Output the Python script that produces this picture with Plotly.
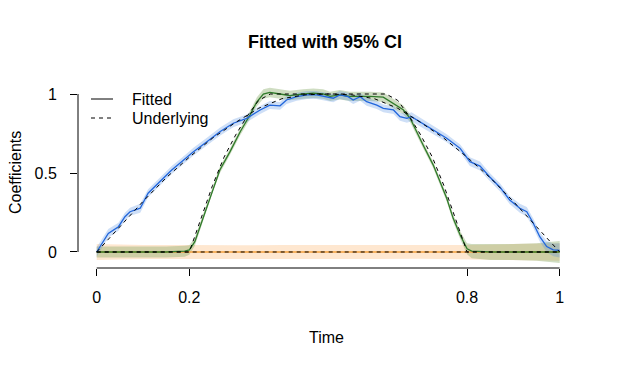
import plotly.graph_objects as go

# ---------------- data ----------------
x_tick_vals = [0, 0.2, 0.8, 1]
x_tick_text = ["0", "0.2", "0.8", "1"]
y_tick_vals = [0, 0.5, 1]
y_tick_text = ["0", "0.5", "1"]
legend_labels = ["Fitted", "Underlying"]

blue_t = [0, 0.025, 0.047, 0.061, 0.072, 0.083, 0.094, 0.111, 0.14, 0.162,
          0.184, 0.209, 0.238, 0.266, 0.295, 0.324, 0.353, 0.374, 0.396, 0.41,
          0.432, 0.454, 0.475, 0.497, 0.511, 0.525, 0.543, 0.554, 0.569, 0.583,
          0.605, 0.619, 0.641, 0.655, 0.67, 0.68, 0.698, 0.727, 0.756, 0.785,
          0.806, 0.828, 0.849, 0.871, 0.892, 0.914, 0.929, 0.943, 0.957, 0.972,
          0.986, 1.0]
blue_fit = [0, 0.118, 0.16, 0.223, 0.255, 0.266, 0.277, 0.372, 0.456, 0.519,
            0.572, 0.635, 0.698, 0.761, 0.815, 0.846, 0.899, 0.93, 0.925, 0.962,
            0.983, 0.994, 0.994, 0.983, 0.973, 0.994, 0.983, 0.962, 0.983, 0.951,
            0.93, 0.909, 0.899, 0.856, 0.846, 0.856, 0.825, 0.772, 0.72, 0.656,
            0.572, 0.544, 0.475, 0.41, 0.329, 0.277, 0.255, 0.182, 0.097, 0.034,
            0.013, 0.01]
blue_ci = [0.03, 0.028, 0.025, 0.025, 0.025, 0.028, 0.028, 0.025, 0.025, 0.025,
           0.025, 0.025, 0.025, 0.025, 0.025, 0.025, 0.025, 0.025, 0.025, 0.025,
           0.025, 0.025, 0.025, 0.025, 0.025, 0.025, 0.025, 0.025, 0.025, 0.025,
           0.025, 0.025, 0.025, 0.025, 0.028, 0.028, 0.025, 0.025, 0.025, 0.025,
           0.028, 0.028, 0.025, 0.025, 0.025, 0.028, 0.03, 0.03, 0.03, 0.035,
           0.04, 0.045]

green_t = [0, 0.05, 0.1, 0.15, 0.19, 0.2, 0.212, 0.223, 0.238, 0.252,
           0.266, 0.288, 0.31, 0.331, 0.346, 0.36, 0.374, 0.396, 0.417, 0.446,
           0.468, 0.489, 0.504, 0.525, 0.547, 0.569, 0.59, 0.619, 0.641, 0.662,
           0.677, 0.691, 0.705, 0.727, 0.741, 0.756, 0.77, 0.785, 0.8, 0.81,
           0.85, 0.9, 0.95, 1.0]
green_fit = [0, 0, 0, 0, 0.005, 0.013, 0.065, 0.16, 0.287, 0.413,
             0.519, 0.635, 0.761, 0.867, 0.951, 1.0, 1.01, 1.0, 0.99, 1.0,
             1.005, 1.0, 0.985, 0.995, 0.985, 0.985, 0.985, 0.98, 0.94, 0.9,
             0.846, 0.76, 0.677, 0.55, 0.445, 0.34, 0.213, 0.108, 0.02, 0.005,
             0, 0, 0, 0]
green_ci = [0.035, 0.035, 0.035, 0.035, 0.035, 0.03, 0.025, 0.022, 0.02, 0.02,
            0.02, 0.02, 0.022, 0.025, 0.028, 0.03, 0.03, 0.03, 0.03, 0.03,
            0.03, 0.03, 0.03, 0.03, 0.03, 0.03, 0.03, 0.03, 0.03, 0.028,
            0.025, 0.022, 0.02, 0.02, 0.02, 0.02, 0.022, 0.025, 0.035, 0.045,
            0.05, 0.05, 0.055, 0.07]

orange_t = [0, 0.1, 0.2, 0.3, 0.4, 0.5, 0.6, 0.7, 0.8, 0.9, 1.0]
orange_fit = [0, 0, 0, 0, 0, 0, 0, 0, 0, 0, 0]
orange_ci = [0.05, 0.045, 0.045, 0.042, 0.045, 0.045, 0.045, 0.042, 0.045, 0.05, 0.055]

blue_true_t = [0, 0.05, 0.1, 0.15, 0.2, 0.25, 0.3, 0.35, 0.4, 0.45, 0.5,
               0.55, 0.6, 0.65, 0.7, 0.75, 0.8, 0.85, 0.9, 0.95, 1.0]
blue_true = [0, 0.16, 0.32, 0.47, 0.6, 0.72, 0.82, 0.91, 0.97, 0.995, 1,
             0.995, 0.97, 0.91, 0.82, 0.72, 0.6, 0.47, 0.32, 0.16, 0]

green_true_t = [0, 0.2, 0.212, 0.227, 0.25, 0.275, 0.3, 0.325, 0.35, 0.375,
                0.625, 0.65, 0.675, 0.7, 0.725, 0.75, 0.773, 0.788, 0.8, 1.0]
green_true = [0, 0, 0.1, 0.23, 0.42, 0.6, 0.74, 0.86, 0.96, 1,
              1, 0.96, 0.86, 0.74, 0.6, 0.42, 0.23, 0.1, 0, 0]

orange_true_t = [0, 1.0]
orange_true = [0, 0]

# ---------------- figure ----------------
FONT = "Liberation Sans, Arial, Helvetica, sans-serif"
DASH = "4px,4px"
W, H = 610, 359          # page body adds an 8px offset
L, T, R, B = 70, 72, 38, 99
PW, PH = W - L - R, H - T - B

fig = go.Figure()

# bands drawn orange first, then green, then blue
bands = [
    (orange_t, orange_fit, orange_ci, "rgba(250,168,85,0.28)"),
    (green_t, green_fit, green_ci, "rgba(130,165,95,0.38)"),
    (blue_t, blue_fit, blue_ci, "rgba(80,140,225,0.28)"),
]
for t, f, ci, band in bands:
    up = [a + b for a, b in zip(f, ci)]
    lo = [a - b for a, b in zip(f, ci)]
    fig.add_trace(go.Scatter(x=t + t[::-1], y=up + lo[::-1], fill="toself",
                             fillcolor=band, line=dict(width=0), mode="lines",
                             hoverinfo="skip", showlegend=False))

lines = [
    (orange_t, orange_fit, "#f4a03c"),
    (green_t, green_fit, "#2f7a2a"),
    (blue_t, blue_fit, "#2166dc"),
]
for t, f, col in lines:
    fig.add_trace(go.Scatter(x=t, y=f, mode="lines",
                             line=dict(color=col, width=1.3), showlegend=False))

for t, v in [(blue_true_t, blue_true), (green_true_t, green_true),
             (orange_true_t, orange_true)]:
    fig.add_trace(go.Scatter(x=t, y=v, mode="lines",
                             line=dict(color="black", width=1, dash=DASH),
                             showlegend=False))

# legend drawn by hand (R-style compact legend)
leg_x0, leg_x1, leg_tx = (83 - L) / PW, (105 - L) / PW, (122 - L) / PW
leg_y = [(260 - 91) / PH, (260 - 110) / PH]
shapes = [
    dict(type="line", xref="paper", x0=0, x1=0, yref="y",
         y0=min(y_tick_vals), y1=max(y_tick_vals),
         line=dict(color="black", width=1)),
    dict(type="line", xref="x", x0=min(x_tick_vals), x1=max(x_tick_vals),
         yref="paper", y0=0, y1=0, line=dict(color="black", width=1)),
]
annotations = [
    dict(text="Time", xref="paper", yref="paper", x=0.496, y=(260 - 329) / PH,
         xanchor="center", yanchor="middle", showarrow=False,
         font=dict(size=16, family=FONT, color="black")),
    dict(text="Coefficients", xref="paper", yref="paper", x=(7 - L) / PW,
         y=0.505, xanchor="center", yanchor="middle", textangle=-90,
         showarrow=False, font=dict(size=16, family=FONT, color="black")),
]
for i, (lab, dash) in enumerate(zip(legend_labels, ["solid", DASH])):
    shapes.append(dict(type="line", xref="paper", yref="paper",
                       x0=leg_x0, x1=leg_x1, y0=leg_y[i], y1=leg_y[i],
                       line=dict(color="black", width=1, dash=dash)))
    annotations.append(dict(text=lab, xref="paper", yref="paper", x=leg_tx,
                            y=leg_y[i], xanchor="left", yanchor="middle",
                            showarrow=False,
                            font=dict(size=16, family=FONT, color="black")))

fig.update_layout(
    template="none",
    width=W, height=H,
    margin=dict(l=L, r=R, t=T, b=B, autoexpand=False),
    paper_bgcolor="white", plot_bgcolor="white",
    font=dict(family=FONT, size=16, color="black"),
    title=dict(text="Fitted with 95% CI", x=0.492, xref="paper", xanchor="center",
               y=1 - 34 / H, yref="container", yanchor="middle",
               font=dict(size=18, weight="bold", family=FONT, color="black")),
    showlegend=False,
    xaxis=dict(range=[-0.0404, 1.0439], showgrid=False, zeroline=False,
               showline=False, ticks="outside", ticklen=7, tickwidth=1,
               tickcolor="black", tickvals=x_tick_vals, ticktext=x_tick_text,
               ticklabelstandoff=8, tickfont=dict(size=16), automargin=False),
    yaxis=dict(range=[-0.1013, 1.0886], showgrid=False, zeroline=False,
               showline=False, ticks="outside", ticklen=7, tickwidth=1,
               tickcolor="black", tickvals=y_tick_vals, ticktext=y_tick_text,
               ticklabelstandoff=10, tickfont=dict(size=16), automargin=False),
    shapes=shapes,
    annotations=annotations,
)

fig.write_html("out.html")
